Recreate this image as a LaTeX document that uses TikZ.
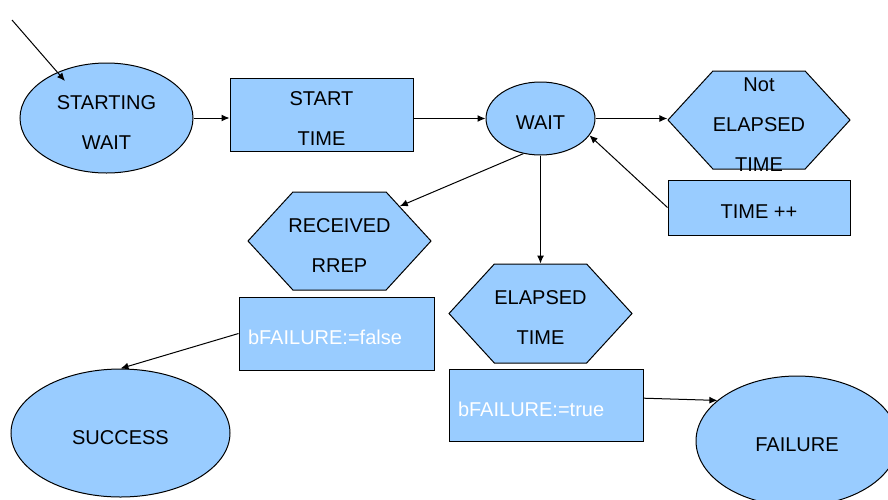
\documentclass[tikz,border=0pt]{standalone}
\usepackage{fontspec}
\setmainfont{Liberation Sans}
\usetikzlibrary{arrows.meta,shapes.geometric,shapes.symbols}
\definecolor{azul}{HTML}{99CCFF}

\begin{document}
\begin{tikzpicture}[x=0.5pt, y=-0.5pt,
        rot/.style={align=center, inner sep=0pt, yshift=-2.1pt, font=\fontsize{10}{20}\selectfont},
        txt/.style={label={[rot]center:{#1}}},
        base/.style={draw, fill=azul, line width=0.5pt, inner sep=0pt},
        estado/.style={base, ellipse},
        caixa/.style={base, rectangle},
        teste/.style={base, signal, signal to=east and west, signal pointer angle=95},
        acao/.style={caixa, label={[rot, text=white, align=left, text width=#1]center:{\acaotxt}}},
        seta/.style={-{Latex[length=4pt,width=3.5pt]}, line width=0.5pt}]
        \useasboundingbox (0,0) rectangle (888,499);

        % estados
        \node[estado, minimum width=86.5pt, minimum height=55pt, txt={STARTING\\WAIT}] (sw) at (106.5,118) {};
        \node[estado, minimum width=54.5pt, minimum height=36.5pt, txt=WAIT] (wait) at (540.5,118.5) {};
        \node[estado, minimum width=109.5pt, minimum height=64pt, txt=SUCCESS] (succ) at (120.5,433) {};
        \node[estado, minimum width=101pt, minimum height=65pt, txt=FAILURE] (fail) at (797,441) {};

        % caixas e testes
        \node[caixa, minimum width=91.5pt, minimum height=36.5pt, txt={START\\TIME}] (st) at (321.5,114.5) {};
        \node[teste, minimum width=91pt, minimum height=49pt, txt={Not\\ELAPSED\\TIME}] (notel) at (759,120) {};
        \node[caixa, minimum width=91pt, minimum height=27.5pt, txt={TIME ++}] (tinc) at (759,207.5) {};
        \node[teste, minimum width=91.5pt, minimum height=49pt, txt={RECEIVED\\RREP}] (rrep) at (339.5,241) {};
        \node[teste, minimum width=91.5pt, minimum height=49.5pt, txt={ELAPSED\\TIME}] (elap) at (540.5,313.5) {};
        \def\acaotxt{bFAILURE:=false}
        \node[acao=88.5pt, minimum width=97.5pt, minimum height=36.5pt] (bfalse) at (336.5,333.5) {};
        \def\acaotxt{bFAILURE:=true}
        \node[acao=88pt, minimum width=97pt, minimum height=36pt] (btrue) at (546,405) {};

        % ligacoes
        \coordinate (ini) at (12,20);
        \coordinate (ini-ponta) at (65,81);
        \draw[seta] (ini) -- (ini-ponta);
        \draw[seta] (sw.east) -- (sw.east -| st.west);
        \draw[seta] (st.east |- wait.west) -- (wait.west);
        \draw[seta] (wait.east) -- (wait.east -| notel.west);
        \draw[seta] (tinc.west) -- (wait.-19);
        \draw[seta] (wait.-116) -- (rrep.30);
        \draw[seta] (wait.south) -- (elap.north);
        \draw[seta] (bfalse.west) -- (succ.north);
        \draw[seta] (btrue.4) -- (fail.153);
    \end{tikzpicture}
\end{document}
